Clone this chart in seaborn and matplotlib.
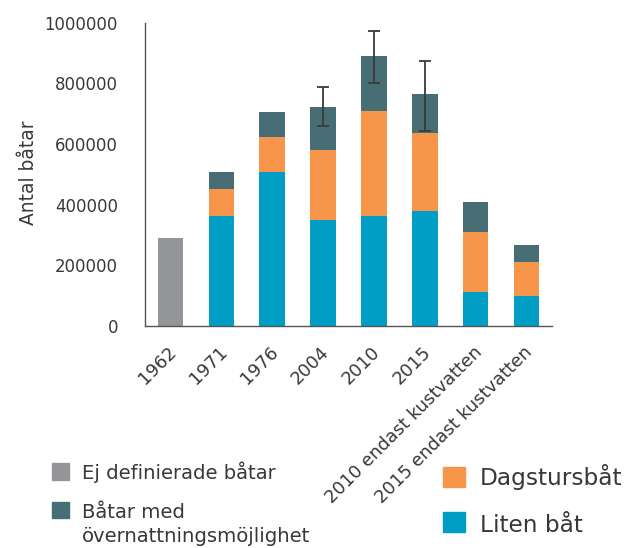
import matplotlib
matplotlib.use("Agg")
import matplotlib.pyplot as plt
from matplotlib.patches import Rectangle
from matplotlib.transforms import ScaledTranslation
import seaborn as sns
import pandas as pd
import numpy as np

categories = ["1962", "1971", "1976", "2004", "2010", "2015",
              "2010 endast kustvatten", "2015 endast kustvatten"]
ej_definierade = [290000, 0, 0, 0, 0, 0, 0, 0]
liten_bat = [0, 363000, 507000, 350000, 363000, 380000, 111000, 98000]
dagstursbat = [0, 88000, 116000, 229000, 345000, 256000, 198000, 113000]
overnattning = [0, 56000, 84000, 142000, 183000, 128000, 99000, 57000]
err_low = [None, None, None, 658000, 801000, 643000, None, None]
err_high = [None, None, None, 787000, 972000, 873000, None, None]
yticks = [0, 200000, 400000, 600000, 800000, 1000000]

C_GRAY = "#939598"
C_TEAL = "#476e75"
C_ORANGE = "#f7964a"
C_BLUE = "#009dc5"
TXT = "#383838"

sns.set_style("white")
plt.rcParams["font.family"] = ["DejaVu Sans"]

df = pd.DataFrame({
    "cat": categories,
    "ej": ej_definierade,
    "liten": liten_bat,
    "dags": dagstursbat,
    "over": overnattning,
})
df["cum_dags"] = df["liten"] + df["dags"]
df["cum_over"] = df["cum_dags"] + df["over"]

W, H = 631, 548
fig = plt.figure(figsize=(6.31, 5.48), dpi=100)
renderer = fig.canvas.get_renderer()


def fit_size(text, target_px):
    t = fig.text(0, 0, text, fontsize=10)
    w = t.get_window_extent(renderer).width
    t.remove()
    return 10 * target_px / w


fs_xtick = fit_size("2010 endast kustvatten", 213)
fs_ytick = fit_size("1000000", 73)
fs_ylab = fit_size("Antal båtar", 105)
fs_leg_l = fit_size("Ej definierade båtar", 195)
fs_leg_r = fit_size("Dagstursbåt", 143)

ax = fig.add_axes([145 / W, 1 - 326 / H, (552 - 145) / W, (326 - 22.7) / H])

kw = dict(x="cat", order=categories, width=0.5, ax=ax, saturation=1, errorbar=None, linewidth=0)
sns.barplot(data=df, y="cum_over", color=C_TEAL, **kw)
sns.barplot(data=df, y="cum_dags", color=C_ORANGE, **kw)
sns.barplot(data=df, y="liten", color=C_BLUE, **kw)
sns.barplot(data=df, y="ej", color=C_GRAY, **kw)

# error bars on totals
for i, (lo, hi) in enumerate(zip(err_low, err_high)):
    if lo is None:
        continue
    tot = df["cum_over"].iloc[i]
    ax.errorbar(i, tot, yerr=[[tot - lo], [hi - tot]], fmt="none",
                ecolor="#3a3a3a", elinewidth=1.3, capsize=4, capthick=1.3, zorder=5)

ax.set_xlim(-0.5, len(categories) - 0.5)
ax.set_ylim(0, 1000000)
ax.set_yticks(yticks)
ax.set_yticklabels([str(v) for v in yticks])
ax.set_xticks(range(len(categories)))
ax.set_xticklabels(categories, rotation=45, ha="right", rotation_mode="anchor")
ax.set_xticks(np.arange(-0.5, len(categories)), minor=True)
ax.tick_params(axis="x", which="major", length=0, pad=12, labelsize=fs_xtick, labelcolor=TXT)
ax.tick_params(axis="x", which="minor", length=6, width=1, color="#555555", direction="out")
ax.tick_params(axis="y", length=6, width=1, color="#555555", direction="out",
               pad=13.5, labelsize=fs_ytick, labelcolor=TXT)
shift = ScaledTranslation(-3 / 100, 0, fig.dpi_scale_trans)
for lab in ax.get_xticklabels():
    lab.set_transform(lab.get_transform() + shift)
ax.set_xlabel("")
ax.set_ylabel("Antal båtar", fontsize=fs_ylab, color=TXT)
ax.yaxis.set_label_coords((38 - 145) / 407, (326 - 172.5) / 303.3)

for s in ["top", "right"]:
    ax.spines[s].set_visible(False)
for s in ["left", "bottom"]:
    ax.spines[s].set_color("#555555")
    ax.spines[s].set_linewidth(1)


def sq(x0, y0, x1, y1, c):
    fig.patches.append(Rectangle((x0 / W, 1 - y1 / H), (x1 - x0) / W, (y1 - y0) / H,
                                 transform=fig.transFigure, color=c))


def label(x, y_base, s, fs):
    fig.text(x / W, 1 - y_base / H, s, va="baseline", ha="left", fontsize=fs, color=TXT)


sq(52, 463, 69, 480, C_GRAY)
label(82, 479, "Ej definierade båtar", fs_leg_l)
sq(52, 502, 69, 518, C_TEAL)
label(82, 518, "Båtar med", fs_leg_l)
label(82, 542, "övernattningsmöjlighet", fs_leg_l)
sq(443, 467, 465, 487, C_ORANGE)
label(480, 485, "Dagstursbåt", fs_leg_r)
sq(443, 512, 465, 532, C_BLUE)
label(480, 532, "Liten båt", fs_leg_r)

fig.savefig("out.png", dpi=100)
